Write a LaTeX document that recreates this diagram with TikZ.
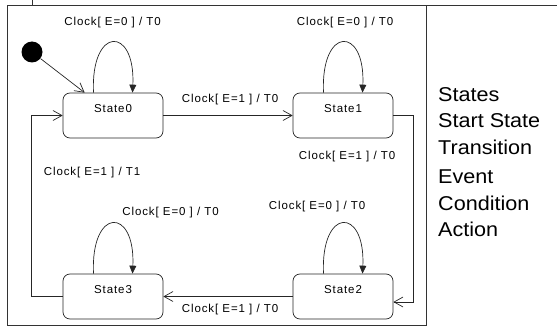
\documentclass[tikz,border=0pt]{standalone}
\usepackage{fontspec}
\setmainfont{Liberation Sans}
\newfontfamily\lblfont[LetterSpace=8]{Liberation Sans}
\newfontfamily\legfont[FakeStretch=1.08]{Liberation Sans}
\usetikzlibrary{arrows.meta}
\begin{document}
\begin{tikzpicture}[x=1pt,y=-1pt,
  frame/.style={draw=black!80, line width=0.8pt},
  state/.style={draw=black!85, line width=0.7pt, rectangle, rounded corners=7pt,
    minimum width=100pt, minimum height=45pt, inner sep=0pt,
    text height=8pt, text depth=15pt, font=\lblfont\fontsize{11.5}{13}\selectfont},
  startdot/.style={circle, fill=black, minimum size=21pt, inner sep=0pt},
  trans/.style={draw=black!85, line width=0.7pt, -{Straight Barb[length=9pt,width=10pt,line width=0.7pt]}},
  selfloop/.style={draw=black!85, line width=0.7pt, -{Triangle[length=8pt,width=7pt]}},
  evlabel/.style={font=\lblfont\fontsize{11.5}{13}\selectfont, inner sep=0pt},
  legend/.style={anchor=base west, inner sep=0pt, font=\legfont\fontsize{20}{24}\selectfont}
]
\useasboundingbox (0,0) rectangle (557,329);

% frame
\draw[frame] (32,0) -- (32,5);
\draw[frame] (7,5) -- (557,5);
\draw[frame] (7,5) rectangle (426,325);

% states
\node[startdot] (init) at (32,52) {};
\node[state] (s0) at (113,115.5) {State0};
\node[state] (s1) at (343,115.5) {State1};
\node[state] (s2) at (343,296.5) {State2};
\node[state] (s3) at (113,296.5) {State3};

% initial transition
\draw[trans] (init) -- ([xshift=22pt]s0.north west);

% self loops
\draw[selfloop] ([xshift=-19.5pt]s0.north) .. controls +(-3,-67) and +(3,-67) .. ([xshift=19.5pt]s0.north);
\draw[selfloop] ([xshift=-19.5pt]s1.north) .. controls +(-3,-67) and +(3,-67) .. ([xshift=19.5pt]s1.north);
\draw[selfloop] ([xshift=-19.5pt]s2.north) .. controls +(-3,-67) and +(3,-67) .. ([xshift=19.5pt]s2.north);
\draw[selfloop] ([xshift=-19.5pt]s3.north) .. controls +(-3,-67) and +(3,-67) .. ([xshift=19.5pt]s3.north);

% transitions between states
\draw[trans] (s0.east) -- (s1.west);
\draw[trans] (s1.east) -- ++(20,0) |- ([yshift=-5.5pt]s2.east);
\draw[trans] (s2.west) -- (s3.east);
\draw[trans] (s3.west) -- ++(-31,0) |- (s0.west);

% transition labels
\node[evlabel] (l0) at (112.5,23) {Clock[ E=0 ] / T0};
\node[evlabel] (l1) at (345,23) {Clock[ E=0 ] / T0};
\node[evlabel] (l2) at (317,207) {Clock[ E=0 ] / T0};
\node[evlabel] (l3) at (170.5,213) {Clock[ E=0 ] / T0};
\node[evlabel] (l01) at (230,100) {Clock[ E=1 ] / T0};
\node[evlabel] (l12) at (347,157) {Clock[ E=1 ] / T0};
\node[evlabel] (l23) at (230,310) {Clock[ E=1 ] / T0};
\node[evlabel] (l30) at (92,173) {Clock[ E=1 ] / T1};

% legend
\node[legend] (g1) at (438,101) {States};
\node[legend] (g2) at (438,127) {Start State};
\node[legend] (g3) at (438,154) {Transition};
\node[legend] (g4) at (438,183) {Event};
\node[legend] (g5) at (438,210) {Condition};
\node[legend] (g6) at (438,236) {Action};
\end{tikzpicture}
\end{document}
